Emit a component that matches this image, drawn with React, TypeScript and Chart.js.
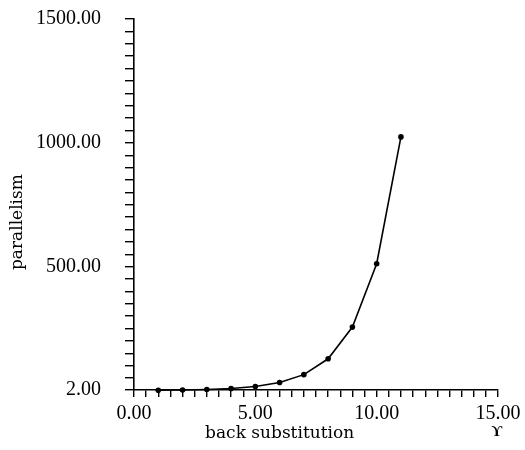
import React, { useEffect, useRef } from "react";
import { Chart, registerables } from "chart.js";

Chart.register(...registerables);

const xValues = [1, 2, 3, 4, 5, 6, 7, 8, 9, 10, 11];
const yValues = [1, 2, 4, 8, 16, 32, 64, 128, 256, 512, 1024];
const xMajorTicks = [0, 5, 10, 15];
const yMajorTicks = [2, 500, 1000, 1500];
const xTitle = "back substitution";
const yTitle = "parallelism";
const cornerMark = "ϒ";

const FONT = "'Liberation Serif', 'DejaVu Serif', serif";
const TITLE_FONT = "'DejaVu Serif', serif";

export default function App() {
  const ref = useRef<HTMLCanvasElement>(null);
  useEffect(() => {
    if (!ref.current) return;
    const xMinorStep = 0.5;
    const yMinorStep = 50;
    const titlePlugin = {
      id: "titles",
      afterDraw(chart: any) {
        const ctx = chart.ctx;
        const xs = chart.scales.x;
        const ys = chart.scales.y;
        ctx.save();
        ctx.fillStyle = "#000";
        ctx.textAlign = "center";
        ctx.textBaseline = "middle";
        ctx.font = `17px ${TITLE_FONT}`;
        // x-axis title, sits a little left of the plot centre
        ctx.fillText(xTitle, xs.getPixelForValue(6), xs.top + 44);
        // y-axis title, rotated, a little below the plot centre
        ctx.translate(ys.left + 18, ys.getPixelForValue(680));
        ctx.rotate(-Math.PI / 2);
        ctx.fillText(yTitle, 0, 0);
        ctx.restore();
        ctx.save();
        ctx.font = `bold 15px ${FONT}`;
        ctx.fillStyle = "#000";
        ctx.textAlign = "center";
        ctx.textBaseline = "middle";
        ctx.fillText(cornerMark, xs.right - 1, xs.top + 42);
        ctx.restore();
      },
    };
    const chart = new Chart(ref.current, {
      type: "line",
      data: {
        datasets: [
          {
            data: xValues.map((x, i) => ({ x, y: yValues[i] })),
            borderColor: "#000",
            backgroundColor: "#000",
            borderWidth: 1.6,
            pointRadius: 2.8,
            pointBackgroundColor: "#000",
            pointBorderWidth: 0,
            tension: 0,
            clip: false as any,
          },
        ],
      },
      options: {
        animation: false,
        responsive: false,
        maintainAspectRatio: false,
        events: [],
        layout: { padding: { left: 0, right: 27, top: 19, bottom: 0 } },
        plugins: { legend: { display: false }, tooltip: { enabled: false } },
        scales: {
          x: {
            type: "linear",
            min: 0,
            max: 15,
            afterBuildTicks: (scale: any) => {
              const t = [];
              for (let v = xMajorTicks[0]; v <= xMajorTicks[xMajorTicks.length - 1] + 1e-9; v += xMinorStep) {
                t.push({ value: Math.round(v * 10) / 10 });
              }
              scale.ticks = t;
            },
            afterFit: (scale: any) => {
              scale.height = 60;
              scale.paddingLeft = 0;
              scale.paddingRight = 0;
            },
            ticks: {
              autoSkip: false,
              maxRotation: 0,
              color: "#000",
              font: { family: FONT, size: 20 },
              padding: 5,
              callback: (v: any) => (xMajorTicks.includes(Number(v)) ? Number(v).toFixed(2) : ""),
            },
            grid: {
              drawOnChartArea: false,
              drawTicks: true,
              tickLength: 7,
              color: "#000",
              lineWidth: 1.4,
            },
            border: { display: true, color: "#000", width: 1.6 },
            title: { display: false },
          },
          y: {
            type: "linear",
            min: 2,
            max: 1500,
            afterBuildTicks: (scale: any) => {
              const t = [{ value: yMajorTicks[0] }];
              for (let v = yMinorStep; v <= yMajorTicks[yMajorTicks.length - 1]; v += yMinorStep) {
                t.push({ value: v });
              }
              scale.ticks = t;
            },
            afterFit: (scale: any) => {
              scale.width = 134;
              scale.paddingTop = 0;
              scale.paddingBottom = 0;
            },
            ticks: {
              autoSkip: false,
              color: "#000",
              font: { family: FONT, size: 20 },
              padding: 24,
              callback: (v: any) => (yMajorTicks.includes(Number(v)) ? Number(v).toFixed(2) : ""),
            },
            grid: {
              drawOnChartArea: false,
              drawTicks: true,
              tickLength: 9,
              color: "#000",
              lineWidth: 1.4,
            },
            border: { display: true, color: "#000", width: 1.6 },
            title: { display: false },
          },
        },
      },
      plugins: [titlePlugin],
    } as any);
    return () => chart.destroy();
  }, []);
  return (
    <div style={{ position: "absolute", left: 0, top: 0, width: 525, height: 450, background: "#fff" }}>
      <canvas ref={ref} width={525} height={450} style={{ width: 525, height: 450, display: "block" }} />
    </div>
  );
}
